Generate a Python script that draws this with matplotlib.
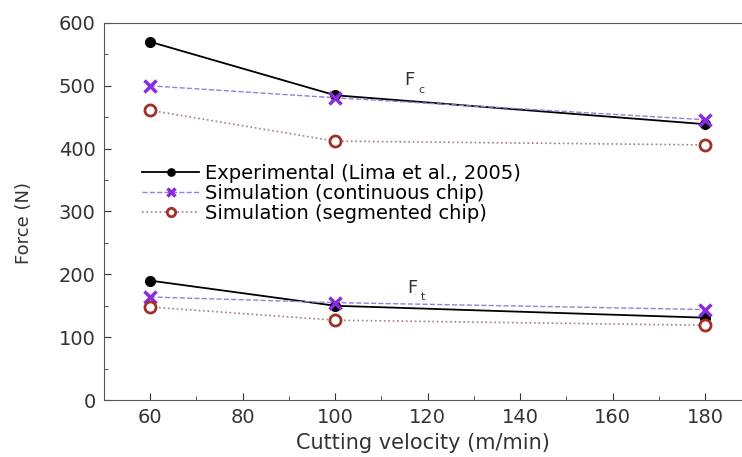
import matplotlib.pyplot as plt
from matplotlib.ticker import MultipleLocator

plt.rcParams['font.family'] = ['DejaVu Sans']

# Data
velocity = [60, 100, 180]
fc_exp = [570, 485, 439]
fc_cont = [500, 481, 446]
fc_seg = [461, 412, 406]
ft_exp = [190, 150, 131]
ft_cont = [164, 155, 144]
ft_seg = [148, 127, 119]

fig = plt.figure(figsize=(7.42, 4.57), dpi=100)
ax = fig.add_axes([104 / 742, 57 / 457, 1 - 104 / 742, 377 / 457])

exp_style = dict(color='black', ls='-', lw=1.3, marker='o', ms=7)
cont_style = dict(color='#9a7ed8', ls='--', lw=1.0, marker='x', ms=8, mew=2.5,
                  mec='#8a2be2')
seg_style = dict(color='#a08080', ls=':', lw=1.2, marker='o', ms=8, mfc='white',
                 mec='#a0302a', mew=2)

ax.plot(velocity, fc_exp, label='Experimental (Lima et al., 2005)', **exp_style)
ax.plot(velocity, fc_cont, label='Simulation (continuous chip)', **cont_style)
ax.plot(velocity, fc_seg, label='Simulation (segmented chip)', **seg_style)
ax.plot(velocity, ft_exp, **exp_style)
ax.plot(velocity, ft_cont, **cont_style)
ax.plot(velocity, ft_seg, **seg_style)

ax.text(115, 501, 'F', fontsize=13, color='#333333')
ax.text(118.0, 489, 'c', fontsize=8, color='#333333')
ax.text(115.5, 171, 'F', fontsize=13, color='#333333')
ax.text(118.5, 159, 't', fontsize=8, color='#333333')

ax.set_xlim(50, 188)
ax.set_ylim(0, 600)
ax.xaxis.set_major_locator(MultipleLocator(20))
ax.xaxis.set_minor_locator(MultipleLocator(10))
ax.yaxis.set_major_locator(MultipleLocator(100))
ax.yaxis.set_minor_locator(MultipleLocator(50))
ax.tick_params(which='both', direction='in', labelsize=14, colors='#333333')
ax.tick_params(which='major', length=5, pad=6)
ax.tick_params(which='minor', length=3)
ax.spines['right'].set_visible(False)
for s in ['left', 'bottom', 'top']:
    ax.spines[s].set_color('#555555')

ax.set_xlabel('Cutting velocity (m/min)', fontsize=15, color='#333333', labelpad=4)
ax.set_ylabel('Force (N)', fontsize=13, color='#333333')
ax.yaxis.set_label_coords(-0.112, 0.47)

ax.legend(loc='upper left', bbox_to_anchor=(0.045, 0.652), frameon=False,
          fontsize=14, handlelength=2.9, borderpad=0.0, labelspacing=0.05,
          handletextpad=0.3, markerscale=0.75)

fig.savefig('out.png', dpi=100)
